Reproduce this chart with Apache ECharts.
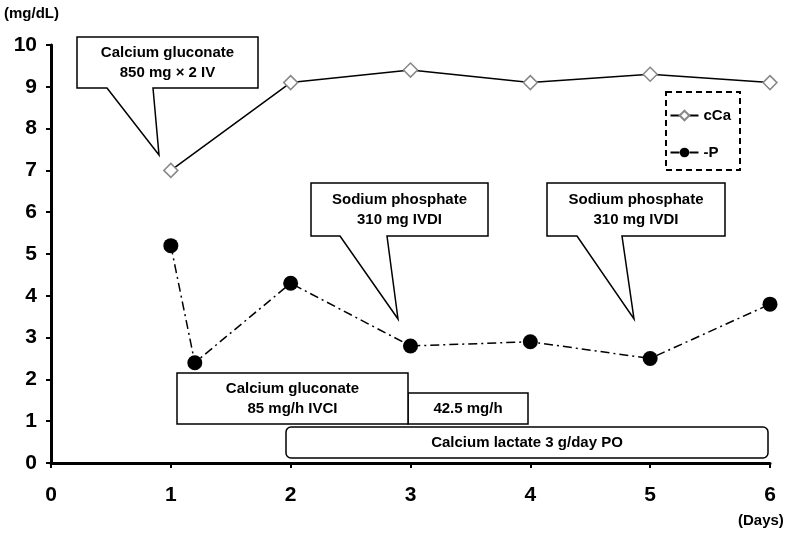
<!DOCTYPE html>
<html>
<head>
<meta charset="utf-8">
<script src="https://cdn.jsdelivr.net/npm/echarts@6/dist/echarts.min.js"></script>
<style>
  html, body { margin: 0; padding: 0; background: #fff; }
  #main { width: 792px; height: 535px; }
</style>
</head>
<body>
<div id="main"></div>
<script>
// data
var caDays = [1, 2, 3, 4, 5, 6];
var caValues = [7.0, 9.1, 9.4, 9.1, 9.3, 9.1];
var pDays = [1, 1.2, 2, 3, 4, 5, 6];
var pValues = [5.2, 2.4, 4.3, 2.8, 2.9, 2.5, 3.8];
var seriesNames = ['cCa', '-P'];

var FONT = '"Liberation Sans", Arial, sans-serif';
var NARROW = '"Liberation Sans Narrow", "Arial Narrow", "Liberation Sans", sans-serif';

function pairs(xs, ys) {
  return xs.map(function (x, i) { return [x, ys[i]]; });
}

// callout box with pointer (pixel geometry)
function callout(box, base, tip, lines) {
  var x0 = box[0], y0 = box[1], x1 = box[2], y1 = box[3];
  return [{
    type: 'polygon',
    z: 50,
    shape: {
      points: [[x0, y0], [x1, y0], [x1, y1], [base[1], y1], tip, [base[0], y1], [x0, y1]]
    },
    style: { fill: '#fff', stroke: '#000', lineWidth: 1.5 }
  }, {
    type: 'text',
    z: 51,
    x: (x0 + x1) / 2,
    y: (y0 + y1) / 2,
    style: {
      text: lines.join('\n'),
      font: 'bold 15px ' + FONT,
      lineHeight: 20,
      fill: '#000',
      align: 'center',
      verticalAlign: 'middle'
    }
  }];
}

function plainBox(box, text, r) {
  return [{
    type: 'rect',
    z: 50,
    shape: { x: box[0], y: box[1], width: box[2] - box[0], height: box[3] - box[1], r: r || 0 },
    style: { fill: '#fff', stroke: '#000', lineWidth: 1.5 }
  }, {
    type: 'text',
    z: 51,
    x: (box[0] + box[2]) / 2,
    y: (box[1] + box[3]) / 2,
    style: {
      text: text,
      font: 'bold 15px ' + FONT,
      lineHeight: 20,
      fill: '#000',
      align: 'center',
      verticalAlign: 'middle'
    }
  }];
}

var graphics = []
  .concat(callout([77, 37, 258, 88], [107, 153], [159, 155], ['Calcium gluconate', '850 mg \u00d7 2 IV']))
  .concat(callout([311, 183, 488, 236], [340, 387], [398, 319], ['Sodium phosphate', '310 mg IVDI']))
  .concat(callout([547, 183, 725, 236], [577, 622], [634, 319], ['Sodium phosphate', '310 mg IVDI']))
  .concat(plainBox([408, 393, 528, 424], '42.5 mg/h'))
  .concat(plainBox([177, 373, 408, 424], 'Calcium gluconate\n85 mg/h IVCI'))
  .concat(plainBox([286, 427, 768, 458], 'Calcium lactate 3 g/day PO', 5))
  .concat([{
    type: 'rect',
    z: 40,
    shape: { x: 666, y: 92, width: 74, height: 78 },
    style: { fill: 'none', stroke: '#000', lineWidth: 2, lineDash: [6, 4] }
  }, {
    type: 'text',
    x: 4, y: 6,
    style: { text: '(mg/dL)', font: 'bold 15px ' + FONT, fill: '#000' }
  }, {
    type: 'text',
    x: 738, y: 513,
    style: { text: '(Days)', font: 'bold 15px ' + FONT, fill: '#000' }
  }]);

var chartDom = document.getElementById('main');
var myChart = echarts.init(chartDom);
var option = {
  animation: false,
  backgroundColor: '#fff',
  grid: { left: 51, right: 22, top: 45, bottom: 72 },
  legend: {
    orient: 'vertical',
    right: 56,
    top: 103,
    itemWidth: 28,
    itemHeight: 12,
    itemGap: 22,
    textStyle: { fontFamily: FONT, fontWeight: 'bold', fontSize: 15, color: '#000' },
    data: seriesNames
  },
  xAxis: {
    type: 'value',
    min: 0,
    max: 6,
    interval: 1,
    splitLine: { show: false },
    axisLine: { onZero: false, lineStyle: { color: '#000', width: 3 } },
    axisTick: { show: true, length: 5, lineStyle: { color: '#000', width: 2 } },
    axisLabel: { color: '#000', fontFamily: NARROW, fontWeight: 'bold', fontSize: 21, margin: 22 }
  },
  yAxis: {
    type: 'value',
    min: 0,
    max: 10,
    interval: 1,
    splitLine: { show: false },
    axisLine: { show: true, lineStyle: { color: '#000', width: 3 } },
    axisTick: { show: true, length: 5, lineStyle: { color: '#000', width: 2 } },
    axisLabel: { color: '#000', fontFamily: NARROW, fontWeight: 'bold', fontSize: 21, margin: 14 }
  },
  series: [{
    name: seriesNames[0],
    type: 'line',
    data: pairs(caDays, caValues),
    symbol: 'diamond',
    symbolSize: 14,
    itemStyle: { color: '#fff', borderColor: '#888', borderWidth: 1.5 },
    lineStyle: { color: '#000', width: 1.5 },
    z: 3
  }, {
    name: seriesNames[1],
    type: 'line',
    data: pairs(pDays, pValues),
    symbol: 'circle',
    symbolSize: 15,
    itemStyle: { color: '#000' },
    lineStyle: { color: '#000', width: 1.5, type: [9, 4, 2, 4] },
    z: 3
  }],
  graphic: graphics
};
myChart.setOption(option);
</script>
</body>
</html>
